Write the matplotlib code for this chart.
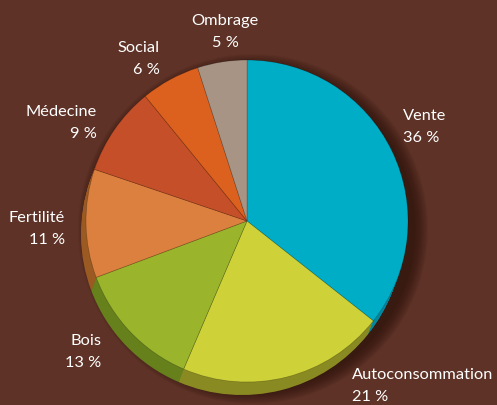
import matplotlib.pyplot as plt
from matplotlib.patches import Circle

# Data
labels = ["Vente", "Autoconsommation", "Bois", "Fertilité", "Médecine", "Social", "Ombrage"]
shares = [36, 21, 13, 11, 9, 6, 5]
pct_text = ["36 %", "21 %", "13 %", "11 %", "9 %", "6 %", "5 %"]

# Style
top_colors = ["#00adc6", "#ced238", "#9ab42c", "#dc8040", "#c44f28", "#dc601e", "#a89484"]
rim_colors = ["#0088a0", "#8a8a22", "#66801c", "#9a5a22", "#8a3a1c", "#9a4416", "#7a6a5c"]
BG = "#5e3226"

W, H = 497, 405
CX, CY = 247, H - 221   # pie centre in pixel-ish data units (y up)
R = 161
DEPTH = 13              # extrusion depth in pixels
SHIFT_X = -5

# label anchor (x, y in pixels from top-left) and alignment
label_pos = [(403, 116, "left"), (352, 375, "left"), (101, 341, "right"),
             (65, 218, "right"), (97, 112, "right"), (160, 48, "right"),
             (225, 21, "center")]

plt.rcParams['font.family'] = ['Lato', 'DejaVu Sans']

fig = plt.figure(figsize=(W / 100, H / 100), dpi=100)
fig.patch.set_facecolor(BG)
ax = fig.add_axes([0, 0, 1, 1])
ax.set_facecolor(BG)

# soft drop shadow
for i in range(14):
    ax.add_patch(Circle((CX + 6, CY - 8), R + 14 - i, color="#2a120a",
                        alpha=0.07, lw=0, zorder=0))

# extruded rim
for k in range(DEPTH, 0, -1):
    ax.pie(shares, colors=rim_colors, startangle=90, counterclock=False,
           radius=R, center=(CX + SHIFT_X * k / DEPTH, CY - k),
           wedgeprops=dict(linewidth=0), frame=True)

# top surface
ax.pie(shares, colors=top_colors, startangle=90, counterclock=False,
       radius=R, center=(CX, CY),
       wedgeprops=dict(linewidth=0.5, edgecolor=(0, 0, 0, 0.25)), frame=True)

ax.set_xlim(0, W)
ax.set_ylim(0, H)
ax.set_aspect('equal')
ax.axis('off')

for name, pct, (px, py, ha) in zip(labels, pct_text, label_pos):
    ax.text(px, H - py, name, ha=ha, va="center", color="white", fontsize=11.8)
    ax.text(px, H - py - 22, pct, ha=ha, va="center", color="white", fontsize=11.8)

fig.savefig("out.png", dpi=100, facecolor=BG)
